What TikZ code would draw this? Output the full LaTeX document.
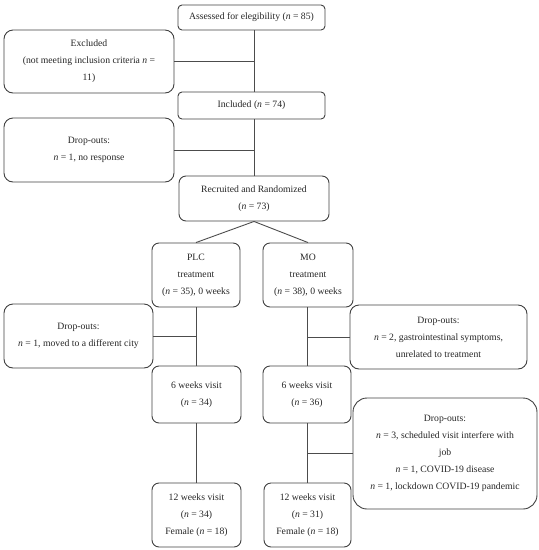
\documentclass[tikz,border=0pt]{standalone}
\usepackage{fontspec}
\setmainfont{Liberation Serif}
\begin{document}
\begin{tikzpicture}[x=1pt,y=-1pt,
  box/.style={draw=black!75, line width=0.9pt, rounded corners=#1, align=center,
    inner sep=0pt, font=\fontsize{9.7}{17}\selectfont, text=black!85},
  box/.default=6pt,
  conn/.style={draw=black!70, line width=0.9pt}]
\useasboundingbox (0,0) rectangle (539,550);
\newcommand{\nn}{\textit{n}}
\node[box=4pt, minimum width=147pt, minimum height=25pt] (assess) at (251.5,17.5) {Assessed for elegibility (\nn{} = 85)};
\node[box=9pt, minimum width=170pt, minimum height=63pt] (excl) at (89,61.5) {Excluded\\(not meeting inclusion criteria \nn{} =\\11)};
\node[box=4pt, minimum width=147pt, minimum height=27pt] (incl) at (251.5,105.5) {Included (\nn{} = 74)};
\node[box=9pt, minimum width=170pt, minimum height=64pt] (drop1) at (89,150) {Drop-outs:\\\nn{} = 1, no response};
\node[box=7pt, minimum width=150pt, minimum height=45pt] (rand) at (254,198.5) {Recruited and Randomized\\(\nn{} = 73)};
\node[box=7pt, minimum width=88pt, minimum height=64pt] (plc) at (196,275) {PLC\\treatment\\(\nn{} = 35), 0 weeks};
\node[box=7pt, minimum width=90pt, minimum height=64pt] (mo) at (308,275) {MO\\treatment\\(\nn{} = 38), 0 weeks};
\node[box=9pt, minimum width=149pt, minimum height=64pt] (dropL) at (78.5,336) {Drop-outs:\\\nn{} = 1, moved to a different city};
\node[box=9pt, minimum width=177pt, minimum height=64pt] (dropR1) at (438.5,337) {Drop-outs:\\\nn{} = 2, gastrointestinal symptoms,\\unrelated to treatment};
\node[box=7pt, minimum width=89pt, minimum height=57pt] (plc6) at (196.5,394.5) {6 weeks visit\\(\nn{} = 34)};
\node[box=7pt, minimum width=88pt, minimum height=57pt] (mo6) at (307,394.5) {6 weeks visit\\(\nn{} = 36)};
\node[box=14pt, minimum width=184pt, minimum height=111pt] (dropR2) at (445,453.5) {Drop-outs:\\\nn{} = 3, scheduled visit interfere with\\job\\\nn{} = 1, COVID-19 disease\\\nn{} = 1, lockdown COVID-19 pandemic};
\node[box=7pt, minimum width=89pt, minimum height=64pt] (plc12) at (196.5,515) {12 weeks visit\\(\nn{} = 34)\\Female (\nn{} = 18)};
\node[box=7pt, minimum width=87pt, minimum height=64pt] (mo12) at (307.5,515) {12 weeks visit\\(\nn{} = 31)\\Female (\nn{} = 18)};
\coordinate (t) at (254,0);
\coordinate (lp) at (196,0);
\coordinate (rp) at (307,0);
\draw[conn] (assess.south -| t) -- (incl.north -| t);
\draw[conn] (incl.south -| t) -- (rand.north -| t);
\draw[conn] (excl.east) -- (excl.east -| t);
\draw[conn] (drop1.east) -- (drop1.east -| t);
\draw[conn] (rand.south) -- (plc.north);
\draw[conn] (rand.south) -- (mo.north);
\draw[conn] (plc.south -| lp) -- (plc6.north -| lp);
\draw[conn] (plc6.south -| lp) -- (plc12.north -| lp);
\draw[conn] (dropL.east) -- (dropL.east -| lp);
\draw[conn] (mo.south -| rp) -- (mo6.north -| rp);
\draw[conn] (mo6.south -| rp) -- (mo12.north -| rp);
\draw[conn] (dropR1.west) -- (dropR1.west -| rp);
\draw[conn] (dropR2.west) -- (dropR2.west -| rp);
\end{tikzpicture}
\end{document}
